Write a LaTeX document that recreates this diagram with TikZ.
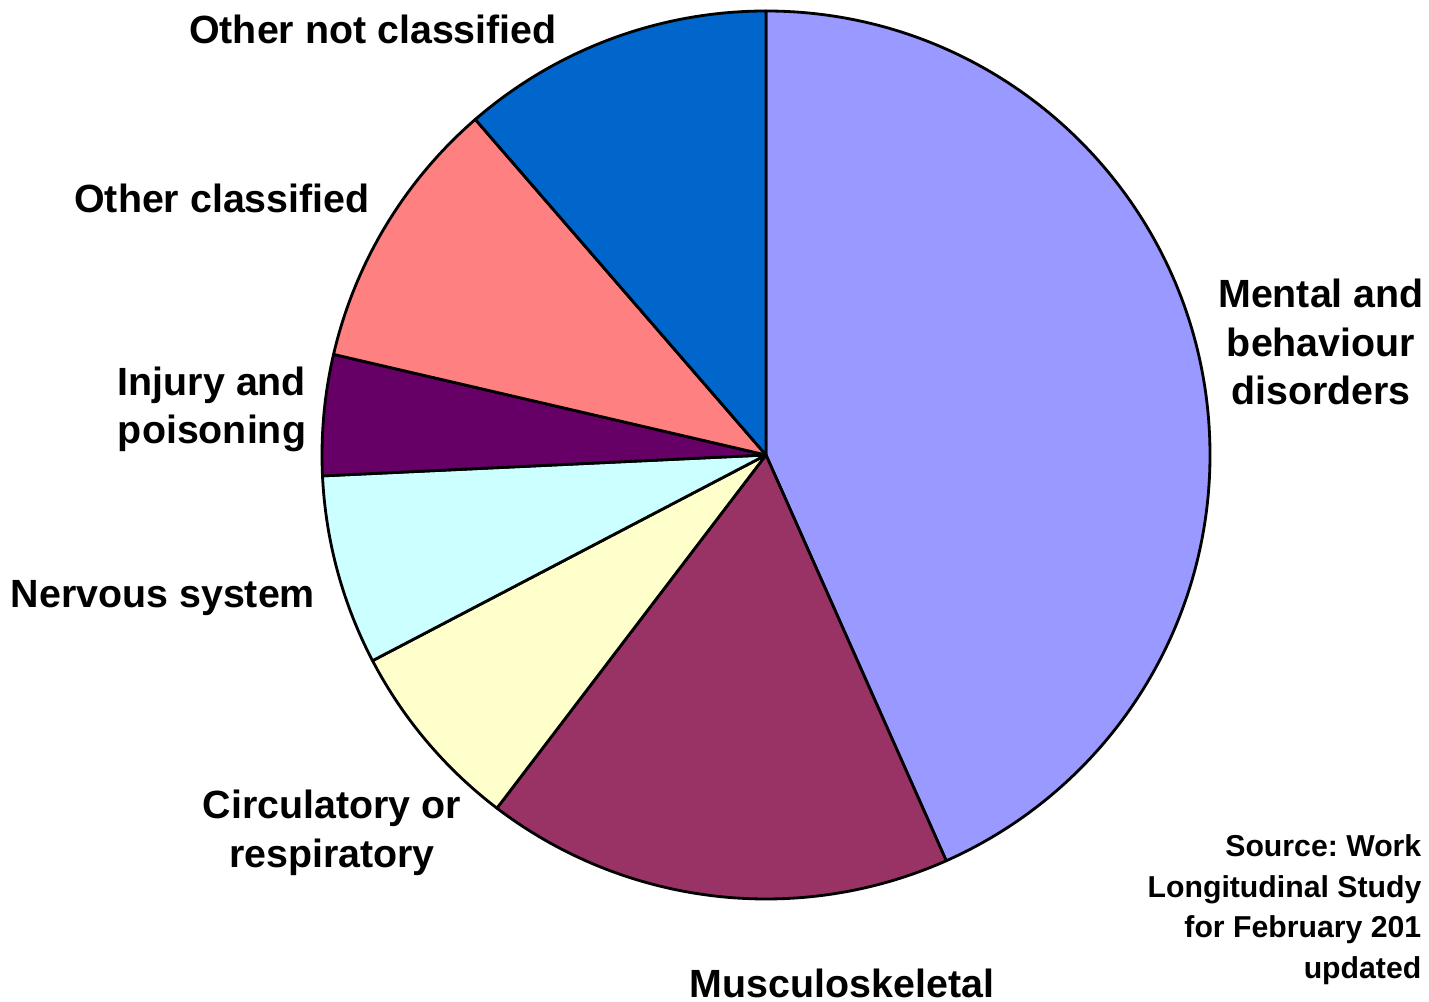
\documentclass[tikz,border=0pt]{standalone}
\usepackage{fontspec}
\setmainfont{Liberation Sans}
\usepackage{tikz}
\frenchspacing

\definecolor{mentalcol}{HTML}{9999FF}
\definecolor{musccol}{HTML}{993366}
\definecolor{circcol}{HTML}{FFFFCC}
\definecolor{nervcol}{HTML}{CCFFFF}
\definecolor{injurycol}{HTML}{660066}
\definecolor{othercol}{HTML}{FF8080}
\definecolor{othernotcol}{HTML}{0066CC}

\begin{document}
\begin{tikzpicture}[
    slice/.style={draw=black, line width=0.8pt, line join=round},
    lbl/.style={font=\fontsize{11.2}{13.9}\selectfont\bfseries, align=center, inner sep=0pt, anchor=base},
    src/.style={font=\fontsize{8.6}{11.5}\selectfont\bfseries, align=right, inner sep=0pt, anchor=base east}
]
    \clip (-7.66,-5.47) rectangle (6.63,4.55);
    \coordinate (c) at (0,0);

    % Slices
    \filldraw[slice, fill=mentalcol] (c) -- (90:4.44) arc[start angle=90, end angle=-66.05, radius=4.44] -- cycle;
    \filldraw[slice, fill=musccol] (c) -- (-66.05:4.44) arc[start angle=-66.05, end angle=-127.3, radius=4.44] -- cycle;
    \filldraw[slice, fill=circcol] (c) -- (-127.3:4.44) arc[start angle=-127.3, end angle=-152.4, radius=4.44] -- cycle;
    \filldraw[slice, fill=nervcol] (c) -- (-152.4:4.44) arc[start angle=-152.4, end angle=-177.3, radius=4.44] -- cycle;
    \filldraw[slice, fill=injurycol] (c) -- (-177.3:4.44) arc[start angle=-177.3, end angle=-193.1, radius=4.44] -- cycle;
    \filldraw[slice, fill=othercol] (c) -- (-193.1:4.44) arc[start angle=-193.1, end angle=-229.1, radius=4.44] -- cycle;
    \filldraw[slice, fill=othernotcol] (c) -- (-229.1:4.44) arc[start angle=-229.1, end angle=-270, radius=4.44] -- cycle;

    % Labels
    \node[lbl] (mental) at (5.55,0.50) {Mental and\\behaviour\\disorders};
    \node[lbl] (musc) at (0.76,-5.42) {Musculoskeletal};
    \node[lbl] (circ) at (-4.34,-4.12) {Circulatory or\\respiratory};
    \node[lbl] (nerv) at (-6.03,-1.53) {Nervous system};
    \node[lbl] (injury) at (-5.54,0.11) {Injury and\\poisoning};
    \node[lbl] (other) at (-5.44,2.42) {Other classified};
    \node[lbl] (othernot) at (-3.93,4.11) {Other not classified};

    % Source
    \node[src] (source) at (6.56,-5.23) {Source: Work\\Longitudinal Study\\for February 201\\updated};
\end{tikzpicture}
\end{document}
